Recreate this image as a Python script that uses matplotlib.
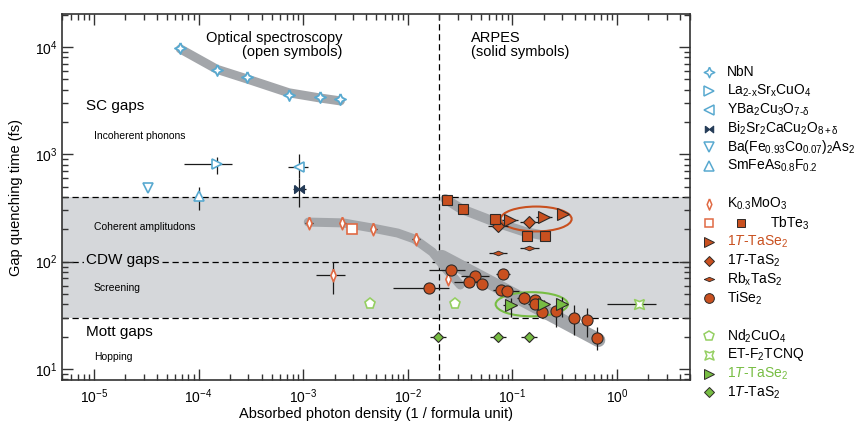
import numpy as np
import matplotlib
matplotlib.use("Agg")
import matplotlib.pyplot as plt
from matplotlib.lines import Line2D
from matplotlib.patches import Ellipse

plt.rcParams["font.family"] = ["Liberation Sans", "DejaVu Sans"]
plt.rcParams["mathtext.fontset"] = "custom"
plt.rcParams["mathtext.rm"] = "Liberation Sans"
plt.rcParams["mathtext.it"] = "Liberation Sans:italic"
plt.rcParams["mathtext.bf"] = "Liberation Sans:bold"

# ---- data ----
# optical, superconductors (open blue)
nbn_x = [6.7e-5, 1.5e-4, 2.9e-4, 7.3e-4, 1.46e-3, 2.27e-3]
nbn_y = [9700, 6150, 5300, 3600, 3400, 3250]

lsco_x, lsco_y = [1.49e-4], [807]
lsco_xlo, lsco_xhi, lsco_ylo, lsco_yhi = [7.2e-5], [2.1e-4], [652], [938]
ybco_x, ybco_y = [9.2e-4], [757]
ybco_xlo, ybco_xhi, ybco_ylo, ybco_yhi = [7.2e-4], [1.12e-3], [600], [1000]
bscco_x, bscco_y = [9.2e-4], [472]
bscco_xlo, bscco_xhi, bscco_ylo, bscco_yhi = [8.0e-4], [1.07e-3], [321], [600]
bafe_x, bafe_y = [3.3e-5], [483]
smfe_x, smfe_y = [1.02e-4], [407]
smfe_ylo, smfe_yhi = [302], [493]

# CDW materials (orange)
kmoo_x = [1.14e-3, 2.37e-3, 4.7e-3, 0.012, 1.94e-3, 0.0243]
kmoo_y = [228, 228, 200, 162, 75, 69]
kmoo_xlo = [1.05e-3, 2.2e-3, 4.35e-3, 0.011, 1.33e-3, 0.0243]
kmoo_xhi = [1.24e-3, 2.55e-3, 5.1e-3, 0.013, 2.5e-3, 0.0243]
kmoo_ylo = [228, 228, 200, 162, 50, 69]
kmoo_yhi = [228, 228, 200, 162, 100, 69]

tbte_open_x, tbte_open_y = [2.95e-3], [200]
tbte_x = [0.0236, 0.034, 0.068, 0.137, 0.206]
tbte_y = [379, 310, 252, 175, 175]

tase_o_x = [0.0957, 0.202, 0.303]
tase_o_y = [243, 261, 276]
tase_o_xlo = [0.080, 0.17, 0.27]
tase_o_xhi = [0.113, 0.24, 0.34]

tas_o_x = [0.0728, 0.145]
tas_o_y = [217, 232]
tas_o_xlo = [0.058, 0.118]
tas_o_xhi = [0.090, 0.180]

rbtas_x = [0.0728, 0.145]
rbtas_y = [121, 133]
rbtas_xlo = [0.060, 0.118]
rbtas_xhi = [0.088, 0.178]

tise_x = [0.0258, 0.0160, 0.0444, 0.0389, 0.0515, 0.0818, 0.0778, 0.0889,
          0.1295, 0.1637, 0.1637, 0.194, 0.2606, 0.392, 0.518, 0.652]
tise_y = [82.8, 56.4, 73.8, 64.1, 61.8, 77.1, 54.3, 53.5,
          45.5, 43.9, 40.3, 33.7, 34.7, 30.0, 28.6, 19.3]
tise_xlo = [0.0159, 0.0072, 0.0325, 0.0275, 0.0515, 0.070, 0.065, 0.0889,
            0.112, 0.1637, 0.140, 0.194, 0.2606, 0.392, 0.518, 0.652]
tise_xhi = [0.0356, 0.0248, 0.0597, 0.0533, 0.0515, 0.095, 0.0778, 0.116,
            0.150, 0.1637, 0.190, 0.194, 0.2606, 0.392, 0.518, 0.652]
tise_ylo = [82.8, 56.4, 73.8, 64.1, 61.8, 77.1, 54.3, 53.5,
            40.0, 40.0, 40.3, 30.0, 24.8, 20.7, 19.9, 15.0]
tise_yhi = [82.8, 56.4, 73.8, 64.1, 61.8, 77.1, 54.3, 53.5,
            52.0, 49.0, 40.3, 38.0, 39.4, 39.4, 37.0, 24.8]

# Mott materials (green)
ndcuo_x, ndcuo_y = [4.4e-3, 0.0281], [40, 40]
et_x, et_y = [1.63], [40]
et_xlo, et_xhi = [0.80], [2.37]
tase_g_x = [0.0964, 0.2018, 0.298]
tase_g_y = [39.2, 40.3, 40.3]
tase_g_xlo = [0.082, 0.185, 0.27]
tase_g_xhi = [0.112, 0.22, 0.33]
tase_g_ylo = [30.5, 36.0, 30.3]
tase_g_yhi = [45.8, 44.0, 47.0]
tas_g_x = [0.0194, 0.0728, 0.145]
tas_g_y = [19.7, 19.7, 19.7]
tas_g_xlo = [0.0163, 0.061, 0.122]
tas_g_xhi = [0.0231, 0.087, 0.173]

# guide-to-the-eye bands
band_nbn_x = nbn_x
band_nbn_y = [9600, 6200, 5050, 3750, 3350, 3150]
band_k_x = [1.12e-3, 2.4e-3, 4.57e-3, 8.0e-3, 0.01155, 0.0172, 0.0229, 0.0318]
band_k_y = [234, 230, 206, 185, 163, 123, 87, 60.7]
band_tb_x = [0.0229, 0.0325, 0.0686, 0.1335, 0.2095]
band_tb_y = [384, 310, 234, 189, 174]
band_ti_x = [0.0212, 0.0800, 0.665]
band_ti_y = [111, 56, 18.6]

# region boundaries
band_limits = [30, 400]
gap_lines = [400, 100, 30]
method_split = 0.02

# ---- styles ----
BLUE = "#58a9d0"
NAVY = "#233a56"
ORANGE = "#c9501f"
ORANGE_OPEN = "#e06a44"
GREEN = "#77bd43"
GREEN_OPEN = "#95cf62"
EDGE = "#2e2a28"
SHADE = "#d5d7da"
BAND = "#a3a6aa"

STAR4 = [(0, 1), (0.32, 0.32), (1, 0), (0.32, -0.32), (0, -1), (-0.32, -0.32), (-1, 0), (-0.32, 0.32), (0, 1)]
BOWTIE = [(-1, 0.8), (0, 0), (1, 0.8), (1, -0.8), (0, 0), (-1, -0.8), (-1, 0.8)]
TALL_D = [(0, 1), (0.42, 0), (0, -1), (-0.42, 0), (0, 1)]
FLAT_D = [(-1, 0), (0, 0.42), (1, 0), (0, -0.42), (-1, 0)]
CONC_SQ = [(1, 1), (0, 0.6), (-1, 1), (-0.6, 0), (-1, -1), (0, -0.6), (1, -1), (0.6, 0), (1, 1)]


def err(v, lo, hi):
    v = np.asarray(v, float)
    return [v - np.asarray(lo, float), np.asarray(hi, float) - v]


fig = plt.figure(figsize=(8.65, 4.25), dpi=100)
ax = fig.add_axes([0.0717, 0.1059, 0.726, 0.861])
ax.set_xscale("log")
ax.set_yscale("log")
ax.set_xlim(4.95e-6, 5.0)
ax.set_ylim(7.9, 2.03e4)

ax.axhspan(band_limits[0], band_limits[1], color=SHADE, lw=0, zorder=0)
for g in gap_lines:
    ax.axhline(g, color="k", lw=0.9, ls=(0, (5, 3)), zorder=1)
ax.axvline(method_split, color="k", lw=0.9, ls=(0, (5, 3)), zorder=1)

for bx, by, w in [(band_nbn_x, band_nbn_y, 6.5), (band_k_x, band_k_y, 6.5),
                  (band_tb_x, band_tb_y, 7), (band_ti_x, band_ti_y, 10)]:
    ax.plot(bx, by, color=BAND, lw=w, solid_capstyle="round",
            solid_joinstyle="round", zorder=2)

ax.add_patch(Ellipse((0.755, 0.44), 0.113, 0.068, transform=ax.transAxes,
                     fill=False, ec=ORANGE, lw=1.5, zorder=3))
ax.add_patch(Ellipse((0.748, 0.207), 0.115, 0.066, transform=ax.transAxes,
                     fill=False, ec=GREEN, lw=1.5, zorder=3))

eb = dict(ls="none", ecolor="#1a1a1a", elinewidth=0.9, capsize=0, zorder=4)

# superconductors
ax.plot(nbn_x, nbn_y, ls="none", marker=STAR4, ms=8, mfc="white", mec=BLUE, mew=1.3, zorder=5)
ax.errorbar(lsco_x, lsco_y, xerr=err(lsco_x, lsco_xlo, lsco_xhi), yerr=err(lsco_y, lsco_ylo, lsco_yhi),
            marker=">", ms=7, mfc="white", mec=BLUE, mew=1.2, **eb)
ax.errorbar(ybco_x, ybco_y, xerr=err(ybco_x, ybco_xlo, ybco_xhi), yerr=err(ybco_y, ybco_ylo, ybco_yhi),
            marker="<", ms=7, mfc="white", mec=BLUE, mew=1.2, **eb)
ax.errorbar(bscco_x, bscco_y, xerr=err(bscco_x, bscco_xlo, bscco_xhi), yerr=err(bscco_y, bscco_ylo, bscco_yhi),
            marker=BOWTIE, ms=7, mfc=NAVY, mec=NAVY, mew=1.0, **eb)
ax.plot(bafe_x, bafe_y, ls="none", marker="v", ms=7, mfc="white", mec=BLUE, mew=1.2, zorder=5)
ax.errorbar(smfe_x, smfe_y, yerr=err(smfe_y, smfe_ylo, smfe_yhi),
            marker="^", ms=7, mfc="white", mec=BLUE, mew=1.2, **eb)

# CDW
ax.errorbar(kmoo_x, kmoo_y, xerr=err(kmoo_x, kmoo_xlo, kmoo_xhi), yerr=err(kmoo_y, kmoo_ylo, kmoo_yhi),
            marker=TALL_D, ms=9, mfc="white", mec=ORANGE_OPEN, mew=1.2, **eb)
ax.plot(tbte_open_x, tbte_open_y, ls="none", marker="s", ms=7, mfc="white", mec=ORANGE_OPEN, mew=1.2, zorder=5)
ax.plot(tbte_x, tbte_y, ls="none", marker="s", ms=7, mfc=ORANGE, mec=EDGE, mew=0.8, zorder=5)
ax.errorbar(tase_o_x, tase_o_y, xerr=err(tase_o_x, tase_o_xlo, tase_o_xhi),
            marker=">", ms=8.5, mfc=ORANGE, mec=EDGE, mew=0.8, **eb)
ax.errorbar(tas_o_x, tas_o_y, xerr=err(tas_o_x, tas_o_xlo, tas_o_xhi),
            marker="D", ms=6, mfc=ORANGE, mec=EDGE, mew=0.8, **eb)
ax.errorbar(rbtas_x, rbtas_y, xerr=err(rbtas_x, rbtas_xlo, rbtas_xhi),
            marker=FLAT_D, ms=8, mfc=ORANGE, mec=EDGE, mew=0.6, **eb)
ax.errorbar(tise_x, tise_y, xerr=err(tise_x, tise_xlo, tise_xhi), yerr=err(tise_y, tise_ylo, tise_yhi),
            marker="o", ms=8, mfc=ORANGE, mec=EDGE, mew=0.8, **eb)

# Mott
ax.plot(ndcuo_x, ndcuo_y, ls="none", marker="p", ms=8, mfc="white", mec=GREEN_OPEN, mew=1.2, zorder=5)
ax.errorbar(et_x, et_y, xerr=err(et_x, et_xlo, et_xhi),
            marker=CONC_SQ, ms=7, mfc="white", mec=GREEN_OPEN, mew=1.2, **eb)
ax.errorbar(tase_g_x, tase_g_y, xerr=err(tase_g_x, tase_g_xlo, tase_g_xhi), yerr=err(tase_g_y, tase_g_ylo, tase_g_yhi),
            marker=">", ms=8.5, mfc=GREEN, mec=EDGE, mew=0.8, **eb)
ax.errorbar(tas_g_x, tas_g_y, xerr=err(tas_g_x, tas_g_xlo, tas_g_xhi),
            marker="D", ms=5.5, mfc=GREEN, mec=EDGE, mew=0.8, **eb)

# ticks / spines
ax.tick_params(which="both", direction="in", top=True, right=True, labelsize=10, width=1.0, color="#333333")
ax.tick_params(which="major", length=8)
ax.tick_params(which="minor", length=4)
for s in ax.spines.values():
    s.set_linewidth(1.2)
    s.set_color("#333333")
ax.tick_params(axis="x", pad=5)
ax.xaxis.get_offset_text().set_visible(False)
ax.yaxis.get_offset_text().set_visible(False)
ax.set_xlabel("Absorbed photon density (1 / formula unit)", fontsize=10.5, labelpad=1)
ax.set_ylabel("Gap quenching time (fs)", fontsize=10.5, labelpad=8)

# annotations
ax.text(0.447, 0.955, "Optical spectroscopy\n(open symbols)", transform=ax.transAxes,
        ha="right", va="top", fontsize=10.5, multialignment="right", linespacing=1.05)
ax.text(0.651, 0.955, "ARPES\n(solid symbols)", transform=ax.transAxes,
        ha="left", va="top", fontsize=10.5, linespacing=1.05)
ax.text(0.038, 0.749, "SC gaps", transform=ax.transAxes, fontsize=11, va="center")
ax.text(0.051, 0.668, "Incoherent phonons", transform=ax.transAxes, fontsize=7.5, va="center")
ax.text(0.051, 0.418, "Coherent amplitudons", transform=ax.transAxes, fontsize=7.5, va="center")
ax.text(0.038, 0.328, "CDW gaps", transform=ax.transAxes, fontsize=11, va="center",
        bbox=dict(fc=SHADE, ec="none", pad=1.5))
ax.text(0.051, 0.251, "Screening", transform=ax.transAxes, fontsize=7.5, va="center")
ax.text(0.038, 0.131, "Mott gaps", transform=ax.transAxes, fontsize=11, va="center")
ax.text(0.051, 0.063, "Hopping", transform=ax.transAxes, fontsize=7.5, va="center")

# legend, laid out by hand in figure pixels (rows of equal height, blank rows between groups)
W, H = 865.0, 425.0
LEG_X_MARK, LEG_X_TEXT, LEG_Y0, LEG_DY = 709, 727, 72, 18.85

legend_rows = [
    (0, [(STAR4, "white", BLUE, 7.5, 1.1)], "NbN", "k"),
    (1, [(">", "white", BLUE, 6.5, 1.1)], r"La$_{\mathrm{2\text{-}x}}$Sr$_{\mathrm{x}}$CuO$_4$", "k"),
    (2, [("<", "white", BLUE, 6.5, 1.1)], r"YBa$_2$Cu$_3$O$_{\mathrm{7\text{-}δ}}$", "k"),
    (3, [(BOWTIE, NAVY, NAVY, 6, 0.8)], r"Bi$_2$Sr$_2$CaCu$_2$O$_{\mathrm{8+δ}}$", "k"),
    (4, [("v", "white", BLUE, 6.5, 1.1)], r"Ba(Fe$_{\mathrm{0.93}}$Co$_{\mathrm{0.07}}$)$_2$As$_2$", "k"),
    (5, [("^", "white", BLUE, 6.5, 1.1)], r"SmFeAs$_{\mathrm{0.8}}$F$_{\mathrm{0.2}}$", "k"),
    (7, [(TALL_D, "white", ORANGE_OPEN, 8, 1.1)], r"K$_{\mathrm{0.3}}$MoO$_3$", "k"),
    (8, [("s", "white", ORANGE_OPEN, 6, 1.1), ("s", ORANGE, EDGE, 6, 0.7)], r"TbTe$_3$", "k"),
    (9, [(">", ORANGE, EDGE, 7, 0.7)], r"1$T$-TaSe$_2$", ORANGE),
    (10, [("D", ORANGE, EDGE, 5.5, 0.7)], r"1$T$-TaS$_2$", "k"),
    (11, [(FLAT_D, ORANGE, EDGE, 7.5, 0.6)], r"Rb$_{\mathrm{x}}$TaS$_2$", "k"),
    (12, [("o", ORANGE, EDGE, 7, 0.7)], r"TiSe$_2$", "k"),
    (14, [("p", "white", GREEN_OPEN, 7, 1.1)], r"Nd$_2$CuO$_4$", "k"),
    (15, [(CONC_SQ, "white", GREEN_OPEN, 6.5, 1.1)], r"ET-F$_2$TCNQ", "k"),
    (16, [(">", GREEN, EDGE, 7, 0.7)], r"1$T$-TaSe$_2$", GREEN),
    (17, [("D", GREEN, EDGE, 5.5, 0.7)], r"1$T$-TaS$_2$", "k"),
]

for row, marks, label, tcolor in legend_rows:
    ypx = LEG_Y0 + row * LEG_DY
    yf = 1 - ypx / H
    for k, (m, fc, ec, ms, mew) in enumerate(marks):
        xf = (LEG_X_MARK + 32 * k) / W
        fig.add_artist(Line2D([xf], [yf], transform=fig.transFigure, ls="none", marker=m,
                              ms=ms, mfc=fc, mec=ec, mew=mew))
    tx = LEG_X_TEXT if len(marks) == 1 else LEG_X_TEXT + 43
    fig.text(tx / W, yf, label, fontsize=10, color=tcolor, va="center", ha="left")

fig.savefig("out.png", dpi=100)
